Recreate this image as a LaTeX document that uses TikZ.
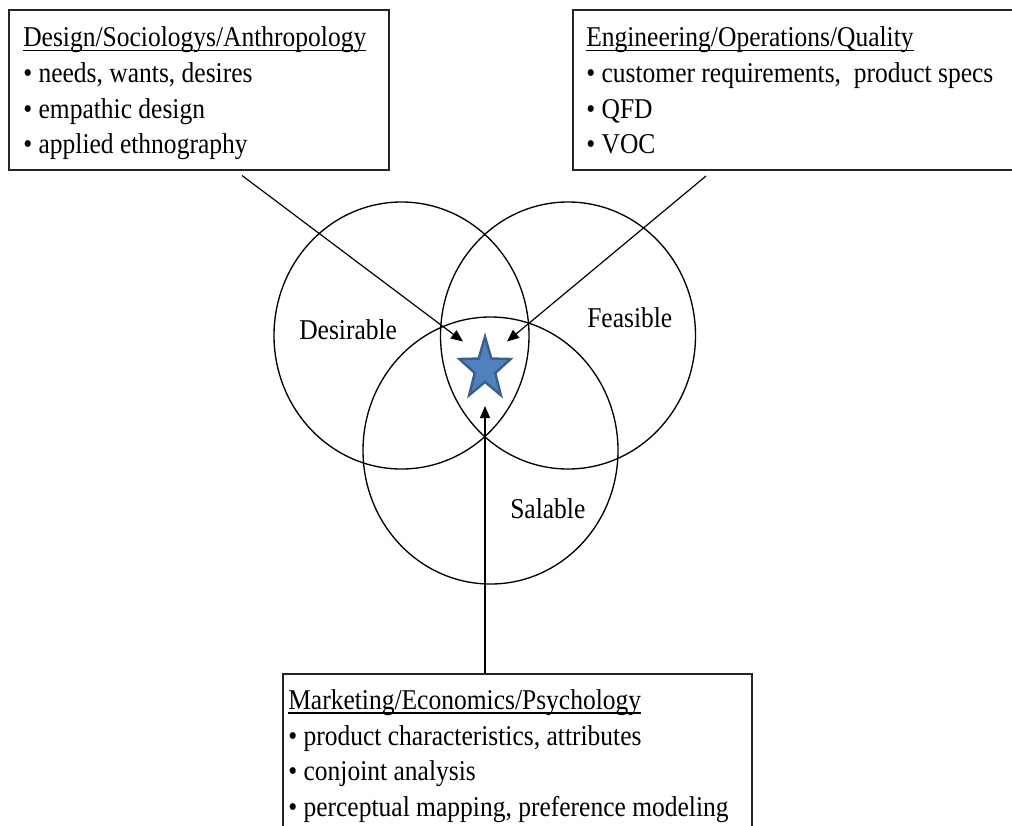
\documentclass[tikz,border=0pt]{standalone}
\usepackage{fontspec}
\setmainfont{Liberation Serif}[FakeStretch=0.89]
\usetikzlibrary{shapes.geometric,arrows.meta}
\definecolor{starfill}{HTML}{4F81BD}
\definecolor{starline}{HTML}{3A5F8B}
\newcommand\headul[1]{\setbox0\hbox{#1}\rlap{\rule[-0.16em]{\wd0}{0.055em}}\box0}
\begin{document}
\begin{tikzpicture}[x=0.75pt,y=-0.75pt,
  font=\fontsize{21.5pt}{26pt}\selectfont,
  box/.style={draw=black!85, line width=1.3pt, rectangle, inner sep=0},
  ring/.style={draw=black, line width=1pt, ellipse, inner sep=0,
    minimum width=191.25pt, minimum height=200.25pt},
  txt/.style={anchor=base west, inner sep=0},
  arr/.style={line width=0.9pt, -{Triangle[length=9pt,width=7.5pt]}},
  starshape/.style={star, star points=5, star point ratio=2.5, fill=starfill,
    draw=starline, line width=1.8pt, inner sep=0, minimum size=40.5pt,
    yscale=1.2, transform shape}]
\useasboundingbox (0,0) rectangle (1012,825);
\clip (0,0) rectangle (1012,825);

% boxes
\node[box, minimum width=285pt, minimum height=120pt] (boxL) at (199,90) {};
\node[box, minimum width=342.75pt, minimum height=120pt] (boxR) at (801.5,90) {};
\node[box, minimum width=351.75pt, minimum height=124.5pt] (boxB) at (517.5,757) {};

% box texts
\node[txt] (l1) at (23,46.7) {\headul{Design/Sociologys/Anthropology}};
\node[txt] (l2) at (23,82.5) {• needs, wants, desires};
\node[txt] (l3) at (23,118) {• empathic design};
\node[txt] (l4) at (23,153.5) {• applied ethnography};

\node[txt] (r1) at (586,46.7) {\headul{Engineering/Operations/Quality}};
\node[txt] (r2) at (586,82.5) {• customer requirements,\ \ product specs};
\node[txt] (r3) at (586,118) {• QFD};
\node[txt] (r4) at (586,153.5) {• VOC};

\node[txt] (b1) at (288,709) {\headul{Marketing/Economics/Psychology}};
\node[txt] (b2) at (288,745) {• product characteristics, attributes};
\node[txt] (b3) at (288,780.5) {• conjoint analysis};
\node[txt] (b4) at (288,816) {• perceptual mapping, preference modeling};

% circles
\node[ring] (cD) at (401.5,335.5) {};
\node[ring] (cF) at (568,335.5) {};
\node[ring] (cS) at (490.5,450.5) {};

\node[txt] (lD) at (299,339) {Desirable};
\node[txt] (lF) at (587,327) {Feasible};
\node[txt] (lS) at (510,518) {Salable};

% star
\node[starshape] (star) at (485,369) {};

% arrows
\coordinate (sL) at (242,175.5);
\coordinate (tL) at (463,341.5);
\coordinate (sR) at (706,176);
\coordinate (tR) at (507,341.5);
\coordinate (tB) at (485,406);
\draw[arr] (sL) -- (tL);
\draw[arr] (sR) -- (tR);
\draw[arr] (boxB.north -| star.center) -- (tB);
\end{tikzpicture}
\end{document}
